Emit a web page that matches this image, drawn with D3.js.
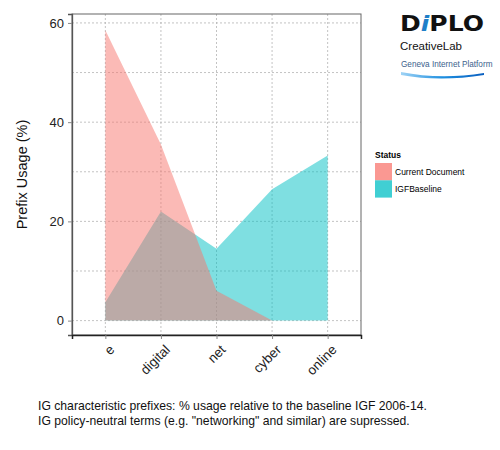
<!DOCTYPE html>
<html>
<head>
<meta charset="utf-8">
<script src="https://cdn.jsdelivr.net/npm/d3@7"></script>
<style>
  body { margin: 0; background: #fff; }
  svg { font-family: "Liberation Sans", Arial, sans-serif; }
</style>
</head>
<body>
<div id="chart"></div>
<script>
// data
var prefixes = ['e', 'digital', 'net', 'cyber', 'online'];
var statuses = ['Current Document', 'IGFBaseline'];
var currentDocument = [58.5, 35.5, 6, 0, 0];
var igfBaseline = [3.7, 22, 14.5, 26.5, 33.3];
var yTicks = [0, 20, 40, 60];
var yMinor = [10, 30, 50];
var statusColors = ['#F8766D', '#00BFC4'];
var captionLines = [
  'IG characteristic prefixes: % usage relative to the baseline IGF 2006-14.',
  'IG policy-neutral terms (e.g. "networking" and similar) are supressed.'
];

var W = 500, H = 450;
var panel = { left: 72, top: 14, right: 361, bottom: 335 };

var svg = d3.select('#chart').append('svg')
  .attr('width', W).attr('height', H);

var x = d3.scalePoint()
  .domain(prefixes)
  .range([panel.left, panel.right])
  .padding(0.6);

var y = d3.scaleLinear()
  .domain([-2.9, 61.8])
  .range([panel.bottom, panel.top]);

// grid
var grid = svg.append('g').attr('class', 'grid')
  .attr('stroke', '#b4b4b4').attr('stroke-dasharray', '2,2').attr('stroke-width', 0.8);
yTicks.concat(yMinor).forEach(function (v) {
  grid.append('line')
    .attr('x1', panel.left).attr('x2', panel.right)
    .attr('y1', y(v)).attr('y2', y(v));
});
prefixes.forEach(function (p) {
  grid.append('line')
    .attr('x1', x(p)).attr('x2', x(p))
    .attr('y1', panel.top).attr('y2', panel.bottom);
});

// areas (baseline underneath, current document on top)
var area = d3.area()
  .x(function (d, i) { return x(prefixes[i]); })
  .y0(y(0))
  .y1(function (d) { return y(d); });

svg.append('path')
  .datum(igfBaseline)
  .attr('d', area)
  .attr('fill', statusColors[1])
  .attr('fill-opacity', 0.5);

svg.append('path')
  .datum(currentDocument)
  .attr('d', area)
  .attr('fill', statusColors[0])
  .attr('fill-opacity', 0.5);

// panel border
svg.append('rect')
  .attr('x', panel.left).attr('y', panel.top)
  .attr('width', panel.right - panel.left).attr('height', panel.bottom - panel.top)
  .attr('fill', 'none').attr('stroke', '#666').attr('stroke-width', 1);

// axes
var yAxis = d3.axisLeft(y).tickValues(yTicks).tickSize(4).tickPadding(4);
var gy = svg.append('g')
  .attr('transform', 'translate(' + panel.left + ',0)')
  .call(yAxis);
gy.select('.domain').attr('stroke', '#555').attr('stroke-width', 1.3);
gy.selectAll('.tick line').attr('stroke', '#888');
gy.selectAll('.tick text').attr('font-size', 13).attr('fill', '#222')
  .attr('font-family', '"Liberation Sans", Arial, sans-serif');

var xAxis = d3.axisBottom(x).tickSize(4).tickPadding(3);
var gx = svg.append('g')
  .attr('transform', 'translate(0,' + panel.bottom + ')')
  .call(xAxis);
gx.select('.domain').attr('stroke', '#222').attr('stroke-width', 1.5);
gx.selectAll('.tick line').attr('stroke', '#888');
gx.selectAll('.tick text')
  .attr('font-size', 13.5).attr('fill', '#222')
  .attr('font-family', '"Liberation Sans", Arial, sans-serif')
  .attr('text-anchor', 'end')
  .attr('dy', null)
  .attr('transform', 'translate(7,13) rotate(-45)')
  .attr('y', 0).attr('x', 0)
  .attr('dominant-baseline', 'middle');

svg.append('text')
  .attr('transform', 'translate(27,' + ((panel.top + panel.bottom) / 2) + ') rotate(-90)')
  .attr('text-anchor', 'middle')
  .attr('font-size', 14.5).attr('fill', '#111')
  .text('Prefix Usage (%)');

// legend
var legend = svg.append('g').attr('transform', 'translate(375,0)');
legend.append('text')
  .attr('x', 0).attr('y', 158)
  .attr('font-size', 8.5).attr('font-weight', 'bold')
  .text('Status');
statuses.forEach(function (s, i) {
  legend.append('rect')
    .attr('x', 0).attr('y', 163 + i * 17.3)
    .attr('width', 17).attr('height', 17.3)
    .attr('fill', statusColors[i]).attr('fill-opacity', 0.75);
  legend.append('text')
    .attr('x', 20).attr('y', 175 + i * 17.3)
    .attr('font-size', 8.5)
    .text(s);
});

// logo
var logo = svg.append('g').attr('transform', 'translate(400,0)');
var diplo = logo.append('text')
  .attr('x', 0).attr('y', 31)
  .attr('font-size', 22).attr('font-weight', 'bold')
  .attr('font-family', '"DejaVu Sans", sans-serif')
  .attr('textLength', 84).attr('lengthAdjust', 'spacingAndGlyphs');
diplo.append('tspan').attr('fill', '#111').text('D');
diplo.append('tspan').attr('fill', '#1f7fc8').attr('font-style', 'italic').text('i');
diplo.append('tspan').attr('fill', '#111').text('PLO');
logo.append('text')
  .attr('x', 0).attr('y', 50)
  .attr('font-size', 11.5).attr('fill', '#111')
  .text('CreativeLab');
logo.append('text')
  .attr('x', 1).attr('y', 67)
  .attr('font-size', 8.2).attr('fill', '#3d5f8c')
  .attr('font-family', '"Liberation Sans Narrow", "Liberation Sans", sans-serif')
  .text('Geneva Internet Platform');
var grad = svg.append('defs').append('linearGradient')
  .attr('id', 'swoosh').attr('x1', '0%').attr('x2', '100%');
grad.append('stop').attr('offset', '0%').attr('stop-color', '#9fd3f5');
grad.append('stop').attr('offset', '50%').attr('stop-color', '#1e8fe0');
grad.append('stop').attr('offset', '100%').attr('stop-color', '#0a5fc0');
logo.append('path')
  .attr('d', 'M1,72 Q40,80 84,73 L84,75 Q40,82 1,75 Z')
  .attr('fill', 'url(#swoosh)');

// caption
captionLines.forEach(function (line, i) {
  svg.append('text')
    .attr('x', 38).attr('y', 410 + i * 15)
    .attr('font-size', 12.2).attr('fill', '#111')
    .text(line);
});
</script>
</body>
</html>
